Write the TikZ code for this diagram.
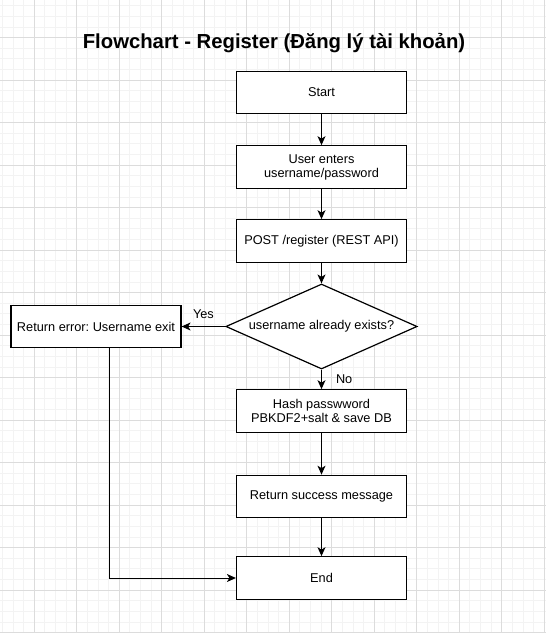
\documentclass[tikz,border=0pt]{standalone}
\usepackage{fontspec}
\setmainfont{Liberation Sans}
\usetikzlibrary{shapes.geometric,arrows.meta}

\definecolor{minorgrid}{HTML}{F3F3F3}
\definecolor{majorgrid}{HTML}{DCDCDC}
\frenchspacing

\begin{document}
\begin{tikzpicture}[x=1pt,y=-1pt,line width=1pt,
    box/.style={draw,fill=white,line width=1.2pt,minimum width=170pt,minimum height=42.5pt,
      align=center,inner sep=2pt,font=\fontsize{12.75}{14}\selectfont},
    decision/.style={draw,fill=white,line width=1.2pt,diamond,minimum width=191.25pt,
      minimum height=85pt,inner sep=0pt,aspect=2.25,font=\fontsize{12.75}{14}\selectfont},
    arr/.style={-{Stealth[length=9pt,width=8pt,inset=2.5pt]}},
    lbl/.style={inner sep=0pt,font=\fontsize{12.75}{14}\selectfont}]
    \useasboundingbox (0,0) rectangle (546,633);
    \fill[white] (0,0) rectangle (546,633);

    % background grid
    \foreach \i in {0,...,51} {
      \draw[minorgrid] ({2.425+10.625*\i},0) -- ++(0,633);
    }
    \foreach \i in {0,...,59} {
      \draw[minorgrid] (0,{5.825+10.625*\i}) -- ++(546,0);
    }
    \foreach \i in {0,...,12} {
      \draw[majorgrid] ({34.3+42.5*\i},0) -- ++(0,633);
    }
    \foreach \i in {0,...,14} {
      \draw[majorgrid] (0,{37.7+42.5*\i}) -- ++(546,0);
    }

    \node[anchor=base,inner sep=0pt,font=\bfseries\fontsize{20.3}{23}\selectfont] (title) at (274,48.5)
      {Flowchart - Register (Đăng lý tài khoản)};

    \node[box] (start) at (321.5,92.5) {Start};
    \node[box] (input) at (321.5,167) {User enters\\username/password};
    \node[box] (post) at (321.5,241) {POST /register (REST API)};
    \node[decision] (check) at (321.5,326.5) {username already exists?};
    \node[box] (error) at (96,326.5) {Return error: Username exit};
    \node[box] (hash) at (321.5,411) {Hash passwword\\PBKDF2+salt \& save DB};
    \node[box] (success) at (321.5,496.5) {Return success message};
    \node[box] (end) at (321.5,578) {End};

    \draw[arr] (start) -- (input);
    \draw[arr] (input) -- (post);
    \draw[arr] (post) -- (check);
    \draw[arr] (check) -- node[lbl,midway,above=7pt] (yes) {Yes} (error);
    \draw[arr] (check) -- node[lbl,midway,right=14pt] (no) {No} (hash);
    \draw[arr] (hash) -- (success);
    \draw[arr] (success) -- (end);
    \draw[arr] ([xshift=13pt]error.south) |- (end.west);
  \end{tikzpicture}
\end{document}
